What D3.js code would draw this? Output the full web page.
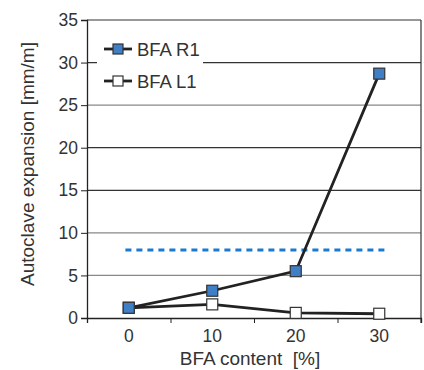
<!DOCTYPE html>
<html>
<head>
<meta charset="utf-8">
<script src="https://cdn.jsdelivr.net/npm/d3@7"></script>
<style>
  body { margin: 0; background: #fff; }
  text { font-family: "Liberation Sans", Arial, sans-serif; fill: #333; }
</style>
</head>
<body>
<div id="chart"></div>
<script>
// data
var bfaContent = [0, 10, 20, 30];
var bfaR1 = [1.2, 3.2, 5.5, 28.7];
var bfaL1 = [1.2, 1.6, 0.6, 0.5];
var limitValue = 8;
var limitRange = [-0.4, 30.7];
var yTicks = [0, 5, 10, 15, 20, 25, 30, 35];
var xLabels = [0, 10, 20, 30];
var xTicks = [-5, 5, 15, 25, 35];

var margin = {top: 20, right: 3, bottom: 52, left: 87};
var width = 424 - margin.left - margin.right;
var height = 370 - margin.top - margin.bottom;

var svg = d3.select("#chart")
  .append("svg")
    .attr("width", 424)
    .attr("height", 370)
  .append("g")
    .attr("transform", "translate(" + margin.left + "," + margin.top + ")");

var x = d3.scaleLinear().domain([-5, 35]).range([0, width]);
var y = d3.scaleLinear().domain([0, 35]).range([height, 0]);

// gridlines
svg.append("g")
  .selectAll("line")
  .data(yTicks.slice(1))
  .enter()
  .append("line")
    .attr("x1", 0)
    .attr("x2", width)
    .attr("y1", function(d) { return y(d); })
    .attr("y2", function(d) { return y(d); })
    .attr("stroke", function(d) { return (d == 30 || d == 20 || d == 15 || d == 35) ? "#333" : "#888"; })
    .attr("stroke-width", 1.2);

// right border
svg.append("line")
  .attr("x1", width).attr("x2", width)
  .attr("y1", 0).attr("y2", height + 5)
  .attr("stroke", "#333").attr("stroke-width", 1.2);

// y axis
var yAxis = svg.append("g")
  .call(d3.axisLeft(y).tickValues(yTicks).tickSize(6).tickPadding(3));
yAxis.select(".domain").attr("stroke", "#222").attr("stroke-width", 1.3);
yAxis.selectAll(".tick line").attr("stroke", "#222");
yAxis.selectAll("text").style("font-size", "17.5px").attr("fill", "#333");

// x axis: ticks between labels, labels without ticks
var xAxis = svg.append("g")
  .attr("transform", "translate(0," + height + ")")
  .call(d3.axisBottom(x).tickValues(xTicks).tickSize(5).tickFormat(""));
xAxis.select(".domain").attr("stroke", "#222").attr("stroke-width", 1.3);
xAxis.selectAll(".tick line").attr("stroke", "#222");

svg.append("g")
  .selectAll("text")
  .data(xLabels)
  .enter()
  .append("text")
    .attr("x", function(d) { return x(d); })
    .attr("y", height + 24)
    .attr("text-anchor", "middle")
    .style("font-size", "17.5px")
    .text(function(d) { return d; });

// axis titles
svg.append("text")
  .attr("x", x(15) - 4)
  .attr("y", height + 47)
  .attr("text-anchor", "middle")
  .style("font-size", "19px")
  .attr("xml:space", "preserve")
  .text("BFA content  [%]");

svg.append("text")
  .attr("transform", "translate(" + (-53) + "," + (height / 2 - 5) + ") rotate(-90)")
  .attr("text-anchor", "middle")
  .style("font-size", "19px")
  .text("Autoclave expansion [mm/m]");

// limit line
svg.append("line")
  .attr("x1", x(limitRange[0]))
  .attr("x2", x(limitRange[1]))
  .attr("y1", y(limitValue))
  .attr("y2", y(limitValue))
  .attr("stroke", "#1a7ad0")
  .attr("stroke-width", 3)
  .attr("stroke-dasharray", "6,5");

var series = [
  {name: "BFA L1", values: bfaL1, fill: "#fff"},
  {name: "BFA R1", values: bfaR1, fill: "#3f7fc6"}
];

var line = d3.line()
  .x(function(d, i) { return x(bfaContent[i]); })
  .y(function(d) { return y(d); });

series.forEach(function(s) {
  svg.append("path")
    .datum(s.values)
    .attr("d", line)
    .attr("fill", "none")
    .attr("stroke", "#222")
    .attr("stroke-width", 2.8);
});

series.forEach(function(s) {
  svg.append("g")
    .selectAll("rect")
    .data(s.values)
    .enter()
    .append("rect")
      .attr("x", function(d, i) { return x(bfaContent[i]) - 5.5; })
      .attr("y", function(d) { return y(d) - 5.5; })
      .attr("width", 11)
      .attr("height", 11)
      .attr("fill", s.fill)
      .attr("stroke", "#333")
      .attr("stroke-width", 1.2);
});

// legend
var legend = svg.append("g").attr("transform", "translate(10,12)");
legend.append("rect")
  .attr("x", 0).attr("y", 0)
  .attr("width", 106).attr("height", 62)
  .attr("fill", "#fff");

var legendItems = [series[1], series[0]];
legendItems.forEach(function(s, i) {
  var g = legend.append("g").attr("transform", "translate(0," + (17 + i * 32) + ")");
  g.append("line")
    .attr("x1", 7).attr("x2", 35)
    .attr("y1", 0).attr("y2", 0)
    .attr("stroke", "#222").attr("stroke-width", 2.8);
  g.append("rect")
    .attr("x", 16).attr("y", -5)
    .attr("width", 10).attr("height", 10)
    .attr("fill", s.fill)
    .attr("stroke", "#333")
    .attr("stroke-width", 1.2);
  g.append("text")
    .attr("x", 40)
    .attr("y", 7)
    .style("font-size", "18.5px")
    .text(s.name);
});
</script>
</body>
</html>
